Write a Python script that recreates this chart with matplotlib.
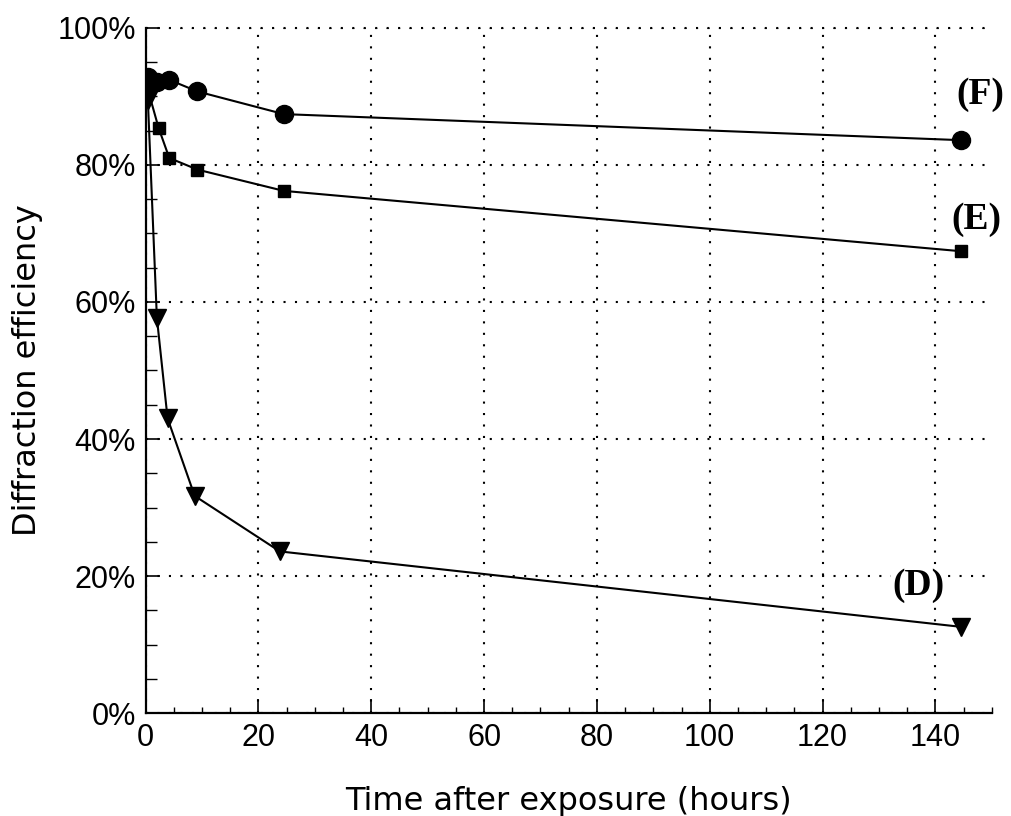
import matplotlib
matplotlib.use("Agg")
import matplotlib.pyplot as plt
from matplotlib.ticker import MultipleLocator, FuncFormatter

# curve values
hours_F = [0.4, 2.1, 4.2, 9.2, 24.5, 144.5]
eff_F = [92.8, 92.1, 92.4, 90.7, 87.4, 83.6]

hours_E = [0.4, 2.3, 4.2, 9.2, 24.5, 144.5]
eff_E = [91.0, 85.4, 81.0, 79.3, 76.2, 67.4]

hours_D = [0.4, 2.0, 3.9, 8.7, 23.8, 144.5]
eff_D = [89.5, 57.7, 43.0, 31.7, 23.6, 12.6]

labels = ["(F)", "(E)", "(D)"]
label_pos = [(148.0, 90.2), (147.2, 72.0), (137.0, 18.7)]

plt.rcParams['font.family'] = ['Liberation Sans', 'DejaVu Sans']

fig = plt.figure(figsize=(10.11, 8.16), dpi=100)
ax = fig.add_axes([0.144, 0.126, 0.837, 0.840])

ax.plot(hours_F, eff_F, color='black', lw=1.5, marker='o', ms=13, zorder=3)
ax.plot(hours_E, eff_E, color='black', lw=1.5, marker='s', ms=9, zorder=3)
ax.plot(hours_D, eff_D, color='black', lw=1.5, marker='v', ms=13, zorder=3)

for txt, (x, y) in zip(labels, label_pos):
    ax.text(x, y, txt, family='Liberation Serif', weight='bold', fontsize=27,
            ha='center', va='center', zorder=4, clip_on=False,
            bbox=dict(facecolor='white', edgecolor='none', pad=1))

ax.set_xlim(0, 150)
ax.set_ylim(0, 100)
ax.xaxis.set_major_locator(MultipleLocator(20))
ax.xaxis.set_minor_locator(MultipleLocator(5))
ax.yaxis.set_major_locator(MultipleLocator(20))
ax.yaxis.set_minor_locator(MultipleLocator(5))
ax.yaxis.set_major_formatter(FuncFormatter(lambda v, p: f"{v:.0f}%"))

ax.tick_params(which='major', direction='in', length=10, width=1.2, labelsize=22, pad=7)
ax.tick_params(axis='y', which='minor', direction='in', length=8, width=1.0)
ax.tick_params(axis='x', which='minor', direction='in', length=4, width=1.0)

ax.grid(which='major', color='black', linestyle=(0, (1, 4.5)), linewidth=1.5)
ax.axhline(100, color='black', linestyle=(0, (1, 4.5)), linewidth=1.5, clip_on=False)

ax.spines['top'].set_visible(False)
ax.spines['right'].set_visible(False)
ax.spines['left'].set_linewidth(1.6)
ax.spines['bottom'].set_linewidth(1.6)

ax.set_xlabel("Time after exposure (hours)", family='DejaVu Sans', fontsize=23, labelpad=24)
ax.set_ylabel("Diffraction efficiency", family='DejaVu Sans', fontsize=23, labelpad=10)

fig.savefig("out.png", dpi=100)
